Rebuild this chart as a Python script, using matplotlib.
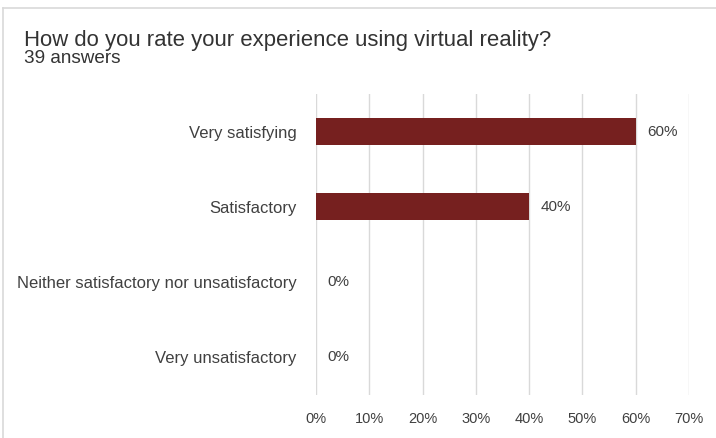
import matplotlib.pyplot as plt
from matplotlib.lines import Line2D

categories = [
    'Very satisfying',
    'Satisfactory',
    'Neither satisfactory nor unsatisfactory',
    'Very unsatisfactory',
]
shares = [60, 40, 0, 0]
ticks = [0, 10, 20, 30, 40, 50, 60, 70]

plt.rcParams['font.family'] = ['Liberation Sans', 'DejaVu Sans']

fig = plt.figure(figsize=(7.16, 4.38), dpi=100)
ax = fig.add_axes([0.4413, 0.0982, 0.5210, 0.6872])

ypos = range(len(categories))
ax.barh(ypos, shares, height=0.36, color='#76201f', zorder=3)

for y, v in zip(ypos, shares):
    ax.annotate(f'{v}%', (v, y), xytext=(8, 0), textcoords='offset points',
                va='center', ha='left', fontsize=11, color='#404040')

ax.set_xlim(0, 70)
ax.set_ylim(len(categories) - 0.5, -0.5)
ax.set_xticks(ticks)
ax.set_xticklabels([f'{t}%' for t in ticks], fontsize=10.5)
ax.set_yticks(list(ypos))
ax.set_yticklabels(categories, fontsize=12)
ax.tick_params(axis='both', length=0, labelcolor='#404040')
ax.tick_params(axis='x', pad=12)
ax.tick_params(axis='y', pad=14)
ax.grid(axis='x', color='#d9d9d9', linewidth=1, zorder=0)
for s in ax.spines.values():
    s.set_visible(False)

fig.text(24 / 716, 1 - 46 / 438, 'How do you rate your experience using virtual reality?',
         fontsize=15.9, color='#333333', va='baseline', ha='left')
fig.text(24 / 716, 1 - 63 / 438, '39 answers',
         fontsize=13.6, color='#333333', va='baseline', ha='left')

# thin frame along the top and left edges
fig.add_artist(Line2D([3 / 716, 1], [1 - 8 / 438] * 2, color='#d9d9d9', lw=1.2))
fig.add_artist(Line2D([3 / 716] * 2, [0, 1 - 8 / 438], color='#d9d9d9', lw=1.2))

fig.savefig('out.png', dpi=100)
